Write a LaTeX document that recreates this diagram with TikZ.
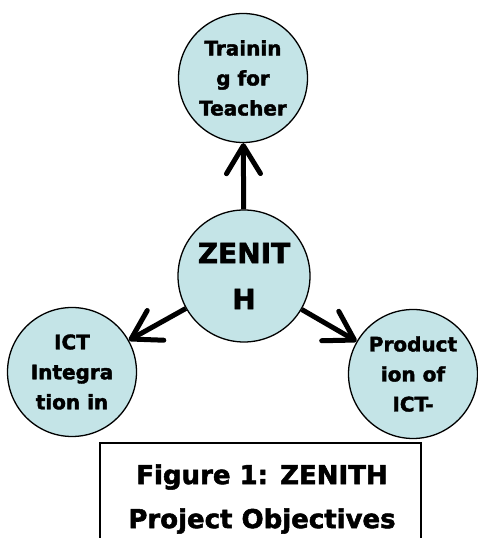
\documentclass[tikz,border=0pt]{standalone}
\usepackage{fontspec}
\setmainfont{DejaVu Sans}[BoldFeatures={FakeBold=2}]
\usetikzlibrary{arrows.meta}
\definecolor{bubble}{HTML}{C4E4E7}

\begin{document}
\begin{tikzpicture}[x=1pt, y=1pt, >={Straight Barb[length=28pt, width=34pt, round]},
    goal/.style={circle, draw, line width=1.3pt, fill=bubble, minimum size=129pt, inner sep=0pt,
      align=center, font=\bfseries\fontsize{20}{30}\selectfont}]
  \useasboundingbox (0,0) rectangle (478,538);
  \node[goal, minimum size=132pt, font=\bfseries\fontsize{28}{46}\selectfont] (zenith) at (244,262) {ZENIT\\H};
  \foreach \name/\pos/\lab in {teacher/{243,460}/{Trainin\\g for\\Teacher},
      integ/{72,166}/{ICT\\Integra\\tion in}, product/{413,164}/{Product\\ion of\\ICT-}} {
    \node[goal] (\name) at (\pos) {\lab};
    \draw[->, line width=5pt] (zenith) -- (\name);
  }
  % caption box, cut off at the bottom
  \draw[line width=1.3pt] (100,-10) -- (100,95) -- (421,95) -- (421,-10);
  \node[align=center, font=\bfseries\fontsize{26}{44}\selectfont] (caption) at (262,39) {Figure 1: ZENITH\\Project Objectives};
\end{tikzpicture}
\end{document}
